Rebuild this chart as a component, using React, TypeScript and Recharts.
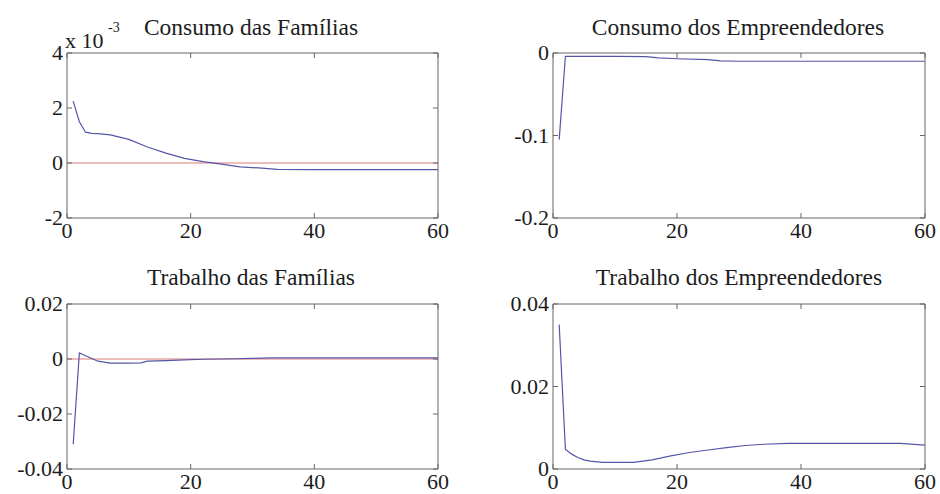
import React from 'react'
import { LineChart, Line, XAxis, YAxis, ReferenceLine } from 'recharts'

// Consumo das Famílias (x 10^-3)
const cfT = [1, 2, 3, 4, 5, 7, 10, 13, 16, 19, 22, 25, 28, 31, 34, 40, 50, 60]
const cfV = [2.25, 1.5, 1.12, 1.08, 1.07, 1.02, 0.86, 0.58, 0.36, 0.17, 0.05, -0.04, -0.14, -0.18, -0.23, -0.24, -0.24, -0.24]

// Consumo dos Empreendedores
const ceT = [1, 2, 5, 10, 15, 17, 20, 25, 27, 30, 40, 50, 60]
const ceV = [-0.105, -0.004, -0.004, -0.004, -0.0045, -0.006, -0.007, -0.008, -0.0095, -0.01, -0.01, -0.01, -0.01]

// Trabalho das Famílias
const tfT = [1, 2, 3, 4, 5, 7, 10, 12, 13, 16, 19, 22, 25, 30, 33, 40, 50, 60]
const tfV = [-0.031, 0.0022, 0.0012, 0.0002, -0.0008, -0.0015, -0.0015, -0.0014, -0.0008, -0.0006, -0.0003, -0.0001, 0, 0.0002, 0.0004, 0.0004, 0.0004, 0.0004]

// Trabalho dos Empreendedores
const teT = [1, 2, 3, 4, 5, 6, 8, 10, 13, 16, 19, 22, 25, 28, 31, 34, 38, 45, 50, 56, 60]
const teV = [0.035, 0.0048, 0.0036, 0.0028, 0.0022, 0.0019, 0.0016, 0.0016, 0.0016, 0.0022, 0.0032, 0.004, 0.0046, 0.0052, 0.0057, 0.006, 0.0062, 0.0062, 0.0062, 0.0062, 0.0058]

const xTicks = [0, 20, 40, 60]
const xLabels = ['0', '20', '40', '60']

const cfTicks = [-2, 0, 2, 4]
const cfLabels = ['-2', '0', '2', '4']
const ceTicks = [-0.2, -0.1, 0]
const ceLabels = ['-0.2', '-0.1', '0']
const tfTicks = [-0.04, -0.02, 0, 0.02]
const tfLabels = ['-0.04', '-0.02', '0', '0.02']
const teTicks = [0, 0.02, 0.04]
const teLabels = ['0', '0.02', '0.04']

const FONT = '"Liberation Serif", "Times New Roman", serif'
const FRAME = '#666'
const TEXT = '#1c1c1c'
const BLUE = '#5656a8'
const RED = '#e07878'
const TICK = 5

const XH = 20
const TOPH = 10
const YW = 60
const RW = 10

function BottomTick(props: any) {
  const { x, y, index, labels } = props
  return (
    <g>
      <line x1={x} x2={x} y1={y} y2={y - TICK} stroke={FRAME} />
      <text x={x} y={y + 20} textAnchor="middle" fontSize={22} fontFamily={FONT} fill={TEXT}>
        {labels[index]}
      </text>
    </g>
  )
}

function TopTick(props: any) {
  const { x, y } = props
  return <line x1={x} x2={x} y1={y} y2={y + TICK} stroke={FRAME} />
}

function LeftTick(props: any) {
  const { x, y, index, labels } = props
  return (
    <g>
      <line x1={x} x2={x + TICK} y1={y} y2={y} stroke={FRAME} />
      <text x={x - 4} y={y + 7} textAnchor="end" fontSize={22} fontFamily={FONT} fill={TEXT}>
        {labels[index]}
      </text>
    </g>
  )
}

function RightTick(props: any) {
  const { x, y } = props
  return <line x1={x} x2={x - TICK} y1={y} y2={y} stroke={FRAME} />
}

interface PanelProps {
  left: number
  top: number
  plot: { l: number; t: number; r: number; b: number }
  t: number[]
  v: number[]
  yTicks: number[]
  yLabels: string[]
  zero?: boolean
}

function Panel({ left, top, plot, t, v, yTicks, yLabels, zero }: PanelProps) {
  const W = 470
  const H = 247
  const data = t.map((x, i) => ({ t: x, v: v[i] }))
  const domain = [yTicks[0], yTicks[yTicks.length - 1]]
  return (
    <div style={{ position: 'absolute', left, top }}>
      <LineChart
        width={W}
        height={H}
        data={data}
        margin={{
          top: plot.t - TOPH,
          left: plot.l - YW,
          right: W - plot.r - RW,
          bottom: H - plot.b - XH,
        }}
      >
        <XAxis
          dataKey="t"
          type="number"
          domain={[0, 60]}
          ticks={xTicks}
          interval={0}
          height={XH}
          tickSize={0}
          tickMargin={0}
          stroke={FRAME}
          tick={(p: any) => <BottomTick {...p} labels={xLabels} />}
        />
        <XAxis
          xAxisId="top"
          orientation="top"
          dataKey="t"
          type="number"
          domain={[0, 60]}
          ticks={xTicks}
          interval={0}
          height={TOPH}
          tickSize={0}
          tickMargin={0}
          stroke={FRAME}
          tick={(p: any) => <TopTick {...p} />}
        />
        <YAxis
          type="number"
          domain={domain}
          ticks={yTicks}
          interval={0}
          width={YW}
          tickSize={0}
          tickMargin={0}
          stroke={FRAME}
          allowDataOverflow
          tick={(p: any) => <LeftTick {...p} labels={yLabels} />}
        />
        <YAxis
          yAxisId="right"
          orientation="right"
          type="number"
          domain={domain}
          ticks={yTicks}
          interval={0}
          width={RW}
          tickSize={0}
          tickMargin={0}
          stroke={FRAME}
          allowDataOverflow
          tick={(p: any) => <RightTick {...p} />}
        />
        {zero && <ReferenceLine y={0} stroke={RED} strokeWidth={1} />}
        <Line
          dataKey="v"
          type="linear"
          stroke={BLUE}
          strokeWidth={1.2}
          dot={false}
          isAnimationActive={false}
        />
      </LineChart>
    </div>
  )
}

export default function App() {
  return (
    <div style={{ position: 'absolute', left: 0, top: 0, width: 940, height: 494, background: '#fff' }}>
      <Panel left={0} top={0} plot={{ l: 67, t: 53, r: 438, b: 218 }} t={cfT} v={cfV} yTicks={cfTicks} yLabels={cfLabels} zero />
      <Panel left={470} top={0} plot={{ l: 83, t: 53, r: 455, b: 218 }} t={ceT} v={ceV} yTicks={ceTicks} yLabels={ceLabels} />
      <Panel left={0} top={247} plot={{ l: 67, t: 57, r: 438, b: 222 }} t={tfT} v={tfV} yTicks={tfTicks} yLabels={tfLabels} zero />
      <Panel left={470} top={247} plot={{ l: 83, t: 57, r: 455, b: 222 }} t={teT} v={teV} yTicks={teTicks} yLabels={teLabels} />
      <svg
        width={940}
        height={494}
        style={{ position: 'absolute', left: 0, top: 0, pointerEvents: 'none' }}
        fontFamily={FONT}
        fill={TEXT}
      >
        <text x={251} y={35} textAnchor="middle" fontSize={23.5}>Consumo das Famílias</text>
        <text x={738} y={35} textAnchor="middle" fontSize={23.5}>Consumo dos Empreendedores</text>
        <text x={251} y={285} textAnchor="middle" fontSize={23.5}>Trabalho das Famílias</text>
        <text x={739} y={285} textAnchor="middle" fontSize={23.5}>Trabalho dos Empreendedores</text>
        <text x={65} y={48} fontSize={22}>x 10</text>
        <text x={108} y={32} fontSize={14}>-3</text>
      </svg>
    </div>
  )
}
